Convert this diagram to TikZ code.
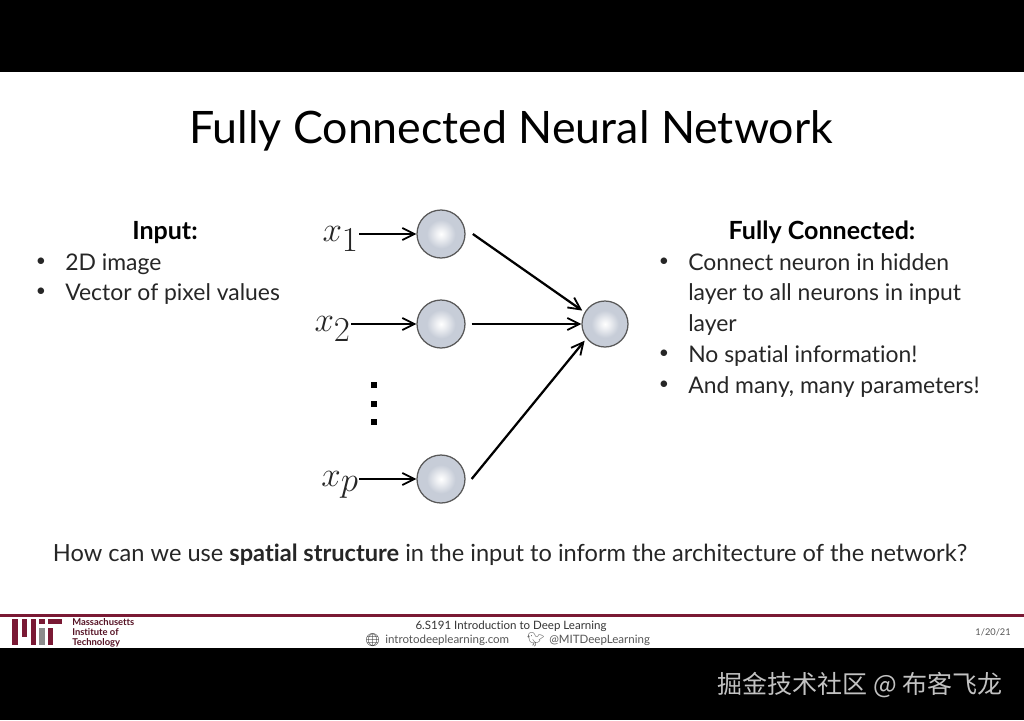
\documentclass[tikz,border=0pt]{standalone}
\usepackage{fontspec}
\usetikzlibrary{arrows.meta}
\setmainfont[Ligatures=CommonOff]{Lato}
\newfontfamily\cjkfont{Noto Sans CJK SC}
\newfontfamily\iconfont{Noto Emoji}
\definecolor{mitmaroon}{RGB}{122, 25, 52}
\definecolor{ballgrey}{RGB}{199, 205, 216}
\definecolor{footgrey}{RGB}{85, 85, 85}
\pgfdeclareradialshading{neuronball}{\pgfpoint{0bp}{0bp}}{color(0bp)=(white); color(5bp)=(white!70!ballgrey); color(15bp)=(ballgrey); color(50bp)=(ballgrey)}
\tikzset{
  neuron/.style={circle, draw=black!65, line width=0.9pt, shading=neuronball, minimum size=12mm, inner sep=0pt},
  varlabel/.style={anchor=base east, inner sep=0pt, text=black!85, font=\fontsize{38}{38}\selectfont},
  edge/.style={-{Straight Barb[length=3mm, width=3mm, line width=1.3pt]}, line width=1.6pt},
  inedge/.style={edge, line width=1.2pt},
  bodytext/.style={anchor=base west, inner sep=0pt, font=\fontsize{16.3}{18}\selectfont, text=black!85},
  headtext/.style={anchor=base, inner sep=0pt, font=\fontsize{17.8}{20}\selectfont\bfseries},
  bulletmark/.style={inner sep=0pt, font=\fontsize{12.5}{14}\selectfont, text=black!85},
  vdot/.style={rectangle, fill=black, minimum size=1.4mm, inner sep=0pt},
  footer/.style={inner sep=0pt, font=\fontsize{8.2}{10}\selectfont, text=footgrey},
}

\begin{document}
\begin{tikzpicture}[x=0.25mm, y=-0.25mm]

\useasboundingbox (0, 0) rectangle (1024, 720);

% ---- black bands and footer rule ----
\fill[black] (0, 0) rectangle (1024, 72);
\fill[black] (0, 648) rectangle (1024, 720);
\fill[mitmaroon] (0, 614) rectangle (1024, 617);

% ---- title ----
\node[inner sep=0pt, font=\fontsize{31.8}{34}\selectfont] (title) at (511, 131) {Fully Connected Neural Network};

% ---- left column ----
\node[headtext] (inhead) at (165, 239) {Input:};
\node[bulletmark] (inbul1) at (41, 262) {•};
\node[bulletmark] (inbul2) at (41, 292) {•};
\node[bodytext] (inline1) at (65, 270) {2D image};
\node[bodytext] (inline2) at (65, 300) {Vector of pixel values};

% ---- network ----
\node[neuron] (n1) at (441, 234) {};
\node[neuron] (n2) at (441, 324) {};
\node[neuron] (np) at (441, 479) {};
\node[neuron, minimum size=11.5mm] (out) at (605, 324) {};

\node[varlabel] (x1) at (359, 241) {$x_1$};
\node[varlabel] (x2) at (351, 331) {$x_2$};
\node[varlabel] (xp) at (359, 486) {$x_p$};

\foreach \name/\ypos in {d1/385, d2/404, d3/422}
  \node[vdot] (\name) at (374, \ypos) {};

\draw[inedge] (x1.east |- n1) -- (n1.west);
\draw[inedge] (x2.east |- n2) -- (n2.west);
\draw[inedge] (xp.east |- np) -- (np.west);

% gaps at the start of the long arrows
\draw[edge, shorten >=0.7mm] ([xshift=1.8mm]n1.east) -- (out.150);
\draw[edge] ([xshift=1.5mm]n2.east) -- (out.west);
\draw[edge, shorten >=0.7mm] ([xshift=1.5mm]np.east) -- (out.218);

% ---- right column ----
\node[headtext] (fchead) at (822, 239) {Fully Connected:};
\node[bulletmark] (fcbul1) at (664, 262) {•};
\node[bulletmark] (fcbul2) at (664, 354) {•};
\node[bulletmark] (fcbul3) at (664, 385) {•};
\node[bodytext] (fcline1) at (688, 270) {Connect neuron in hidden};
\node[bodytext] (fcline2) at (688, 300) {layer to all neurons in input};
\node[bodytext] (fcline3) at (688, 331) {layer};
\node[bodytext] (fcline4) at (688, 362) {No spatial information!};
\node[bodytext] (fcline5) at (688, 393) {And many, many parameters!};

% ---- question ----
\node[anchor=base, inner sep=0pt, font=\fontsize{16.8}{18}\selectfont, text=black!85] (question) at (510, 561) {How can we use \textbf{spatial structure} in the input to inform the architecture of the network?};

% ---- MIT logo ----
\fill[mitmaroon] (12, 619) rectangle (17.5, 645);
\fill[mitmaroon] (22, 619) rectangle (27, 637);
\fill[mitmaroon] (31, 619) rectangle (36, 645);
\fill[mitmaroon] (39, 619) rectangle (45, 624);
\fill[black!45] (39, 628) rectangle (45, 645);
\fill[mitmaroon] (48, 628) rectangle (53, 645);
\fill[mitmaroon] (48, 619) rectangle (62, 623.5);
\node[anchor=west, inner sep=0pt, font=\fontsize{6.7}{6.9}\selectfont\bfseries, text=mitmaroon!70!black, align=left] (mitname) at (72, 633) {Massachusetts\\Institute of\\Technology};

% ---- footer ----
\node[footer, text=black!80] (course) at (511, 626) {6.S191 Introduction to Deep Learning};
\node[footer, anchor=west] (site) at (385, 640) {introtodeeplearning.com};
\node[footer, anchor=east, text=black!80, font=\iconfont\fontsize{9}{10}\selectfont] (globe) at (381, 640) {^^^^^^01f310};
\node[footer, anchor=west] (handle) at (549, 640) {@MITDeepLearning};
\node[footer, anchor=east, text=black!60, font=\iconfont\fontsize{10}{10}\selectfont] (bird) at (545, 640) {^^^^^^01f426};
\node[footer, anchor=east, font=\fontsize{6.6}{8}\selectfont] (date) at (1011, 632) {1/20/21};

% ---- watermark ----
\node[inner sep=0pt, text=black!24, font=\cjkfont\fontsize{17.8}{20}\selectfont] (mark) at (860, 685) {掘金技术社区 @ 布客飞龙};

\end{tikzpicture}
\end{document}
